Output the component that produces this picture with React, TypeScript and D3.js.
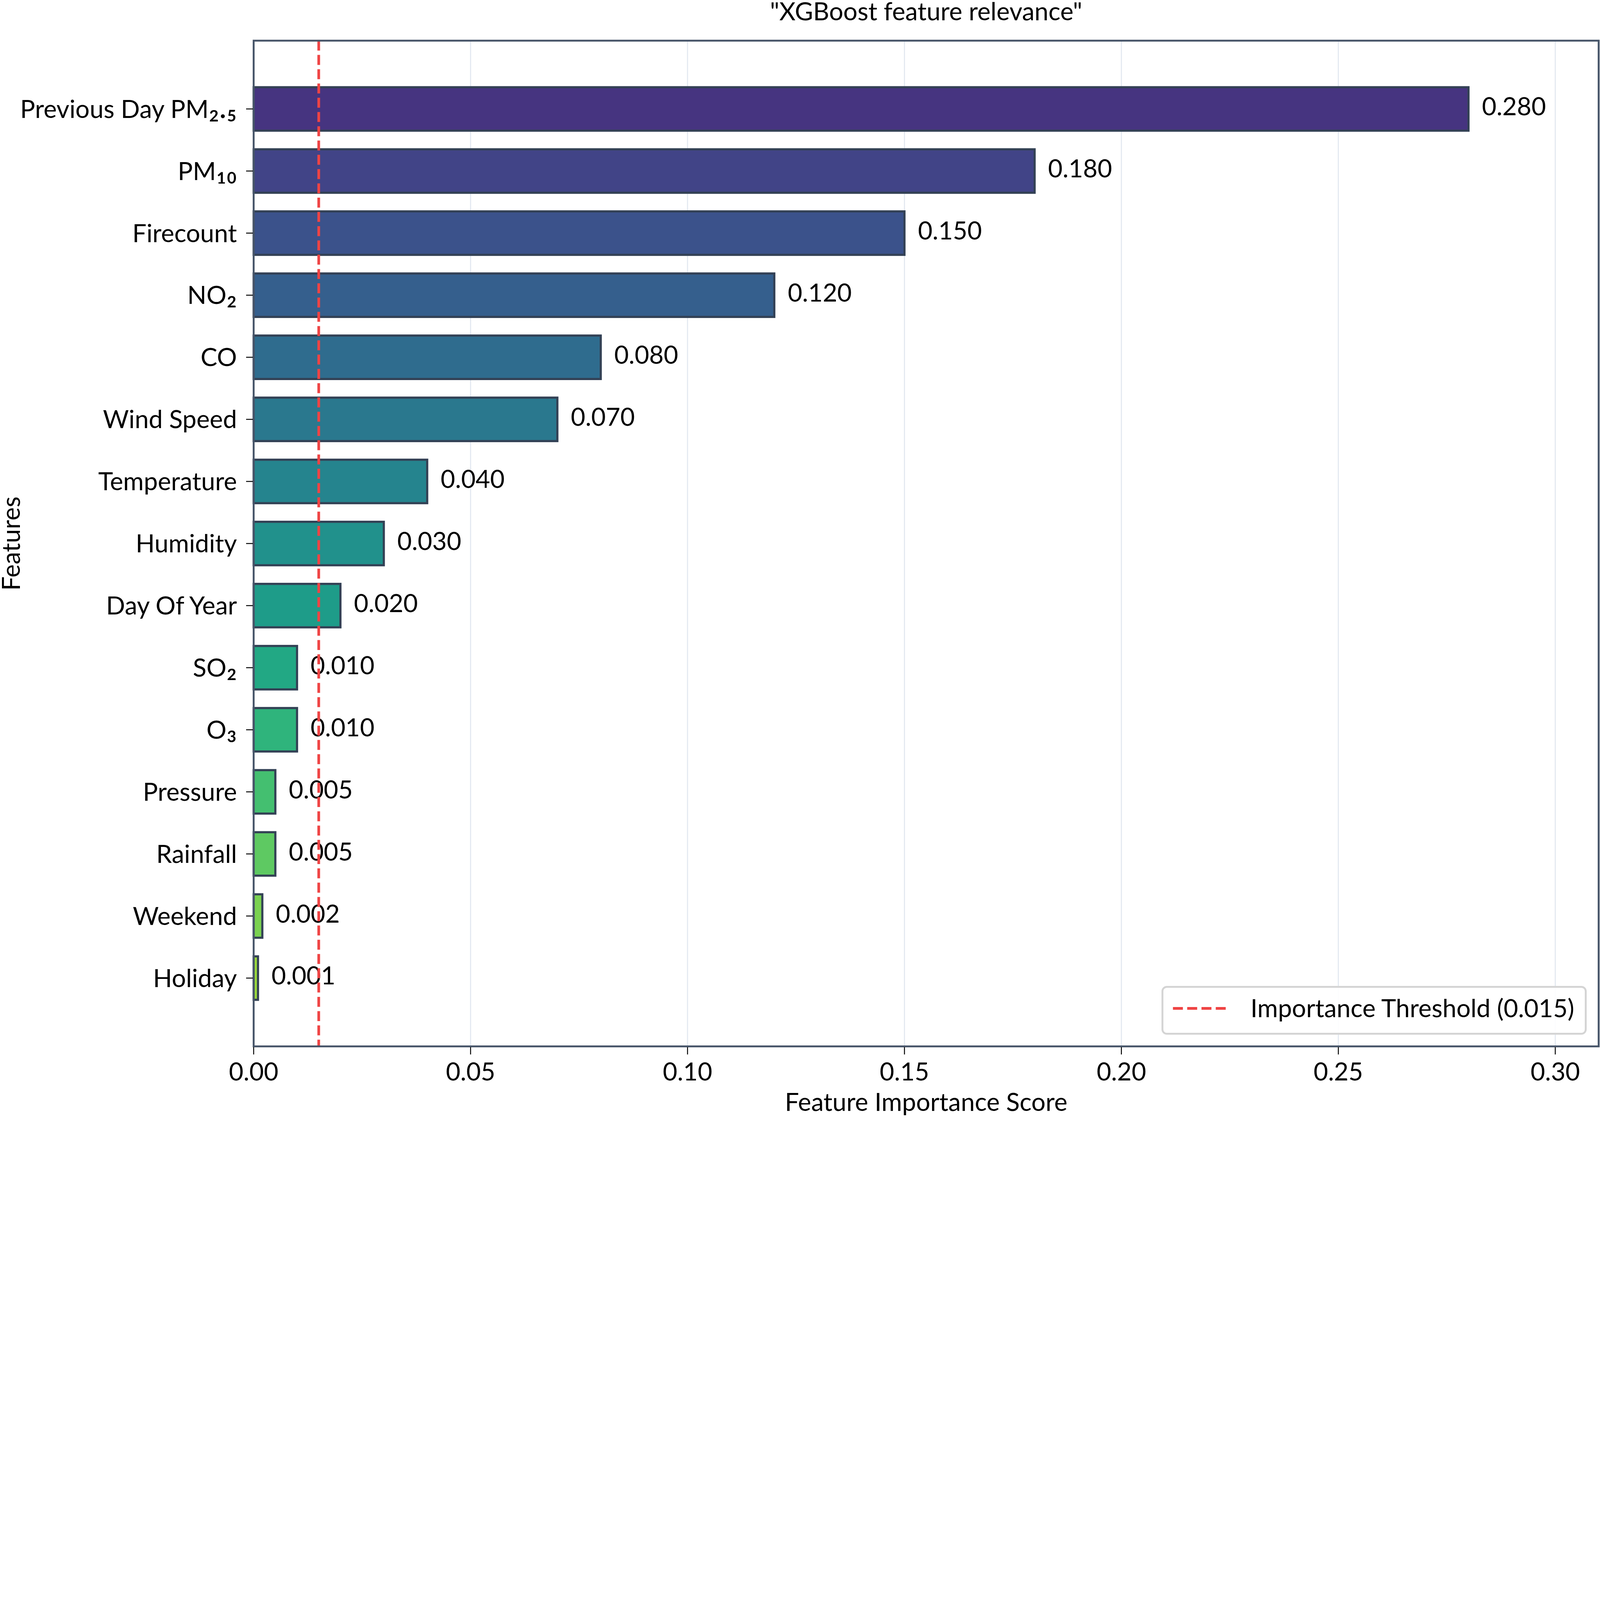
import React from "react";
import * as d3 from "d3";

const features: string[] = [
  "Previous Day PM₂.₅",
  "PM₁₀",
  "Firecount",
  "NO₂",
  "CO",
  "Wind Speed",
  "Temperature",
  "Humidity",
  "Day Of Year",
  "SO₂",
  "O₃",
  "Pressure",
  "Rainfall",
  "Weekend",
  "Holiday",
];
const importance: number[] = [0.28, 0.18, 0.15, 0.12, 0.08, 0.07, 0.04, 0.03, 0.02, 0.01, 0.01, 0.005, 0.005, 0.002, 0.001];
const xTicks: number[] = [0, 0.05, 0.1, 0.15, 0.2, 0.25, 0.3];
const threshold = 0.015;
const titleText = '"XGBoost feature relevance"';
const xLabel = "Feature Importance Score";
const yLabel = "Features";
const legendLabel = "Importance Threshold (0.015)";

const W = 5942;
const H = 4150;
const L = 942, R = 5937, T = 151, B = 3886;
const FONT = "Lato, 'Open Sans', sans-serif";
const FS = 93;

function Label({ s }: { s: string }) {
  const m = s.match(/^(.*?)([₀-₉][₀-₉.]*)$/);
  if (!m) return <>{s}</>;
  return (
    <>
      {m[1]}
      <tspan fontSize={FS * 1.25}>{m[2]}</tspan>
    </>
  );
}

export default function App() {
  const x = d3.scaleLinear().domain([0, 0.31]).range([L, R]);
  const y = d3.scaleLinear().domain([-1.1, features.length - 1 + 1.1]).range([T, B]);
  const barH = y(0.7) - y(0);
  const spine = "#475569";
  const fmt = d3.format(".3f");
  const fmt2 = d3.format(".2f");
  return (
    <svg
      viewBox={`0 0 ${W} ${H}`}
      width="100vw"
      style={{ position: "absolute", left: 0, top: 0, display: "block", background: "#fff", maxWidth: W }}
      fontFamily={FONT}
    >
      <rect x={0} y={0} width={W} height={H} fill="#fff" />
      {xTicks.map((t) => (
        <line key={"g" + t} x1={x(t)} x2={x(t)} y1={T} y2={B} stroke="#e2e8f0" strokeWidth={4} />
      ))}
      {importance.map((v, i) => (
        <rect
          key={"b" + i}
          x={x(0)}
          y={y(i) - barH / 2}
          width={x(v) - x(0)}
          height={barH}
          fill={d3.interpolateViridis(0.15 + i * 0.05)}
          stroke="#334155"
          strokeWidth={8}
        />
      ))}
      {importance.map((v, i) => (
        <text key={"v" + i} x={x(v) + 50} y={y(i) + 24} fontSize={FS} fill="#000">
          {fmt(v)}
        </text>
      ))}
      <line x1={x(threshold)} x2={x(threshold)} y1={T} y2={B} stroke="#ef4444" strokeWidth={10} strokeDasharray="37 16" />
      <rect x={L} y={T} width={R - L} height={B - T} fill="none" stroke={spine} strokeWidth={7} />
      {xTicks.map((t) => (
        <g key={"xt" + t}>
          <line x1={x(t)} x2={x(t)} y1={B + 3} y2={B + 30} stroke="#000" strokeWidth={3.5} />
          <text x={x(t)} y={4013} fontSize={FS} textAnchor="middle" fill="#000">
            {fmt2(t)}
          </text>
        </g>
      ))}
      {features.map((f, i) => (
        <g key={"yt" + i}>
          <line x1={L - 28} x2={L - 3} y1={y(i)} y2={y(i)} stroke="#000" strokeWidth={3.5} />
          <text x={880} y={y(i) + 33} fontSize={FS} textAnchor="end" fill="#000">
            <Label s={f} />
          </text>
        </g>
      ))}
      <text x={(L + R) / 2} y={76} fontSize={FS} textAnchor="middle" fill="#000">
        {titleText}
      </text>
      <text x={(L + R) / 2} y={4126} fontSize={FS} textAnchor="middle" fill="#000">
        {xLabel}
      </text>
      <text transform={`translate(74, ${(T + B) / 2}) rotate(-90)`} fontSize={FS} textAnchor="middle" fill="#000">
        {yLabel}
      </text>
      <g>
        <rect x={4317} y={3665} width={1572} height={174} rx={16} fill="#fff" fillOpacity={0.9} stroke="#d4d4d4" strokeWidth={7} />
        <line x1={4356} x2={4553} y1={3745} y2={3745} stroke="#ef4444" strokeWidth={10} strokeDasharray="37 16" />
        <text x={4644} y={3778} fontSize={FS} fill="#000">
          {legendLabel}
        </text>
      </g>
    </svg>
  );
}
